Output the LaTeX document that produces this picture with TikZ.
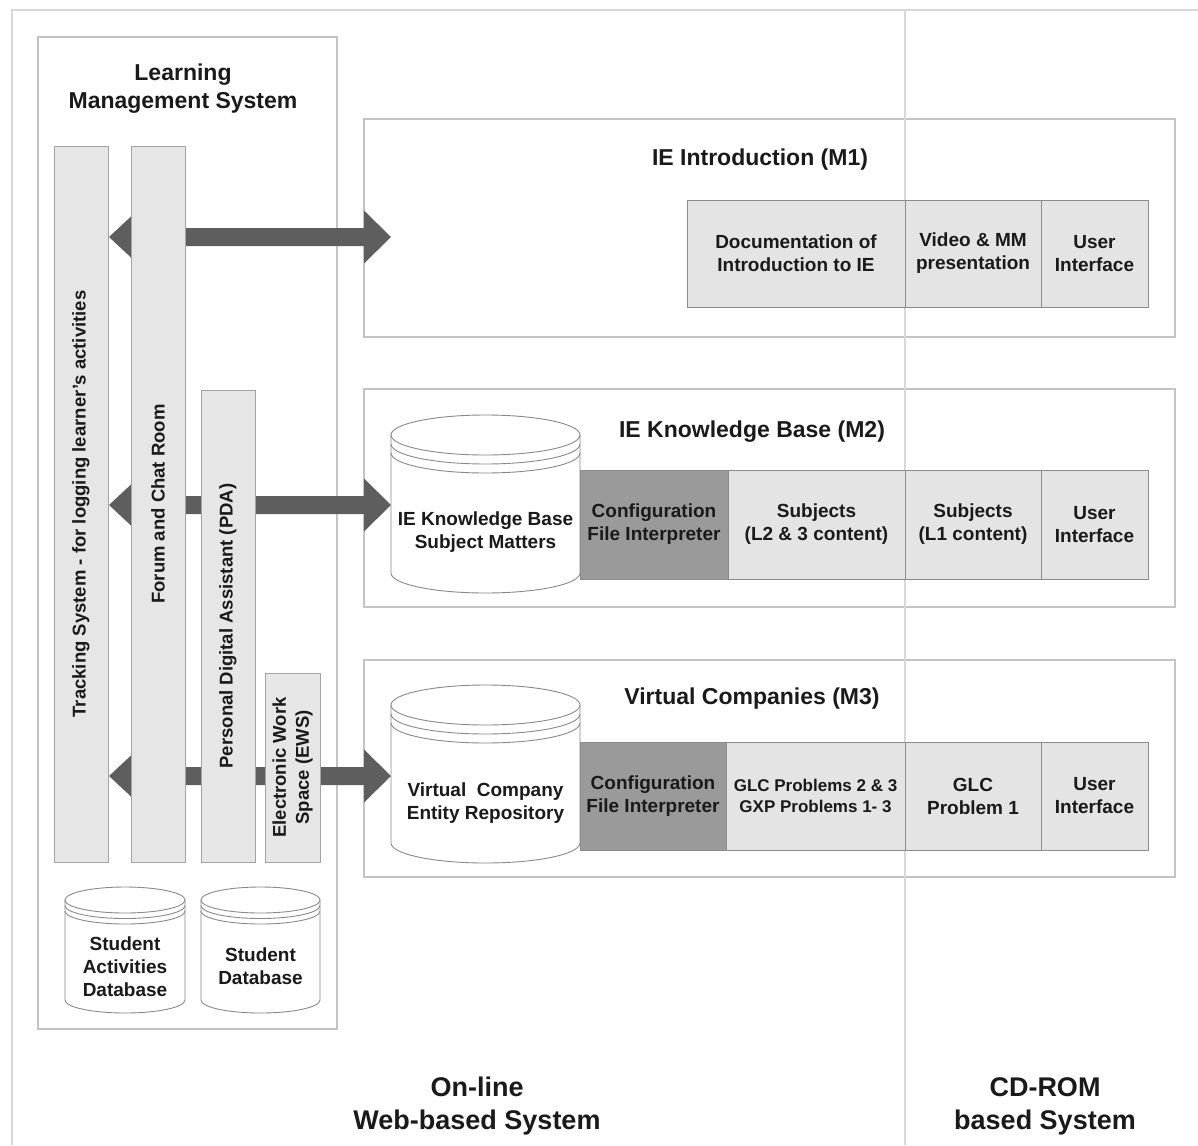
\documentclass[tikz,border=0pt]{standalone}
\usepackage{fontspec}
\setmainfont{Liberation Sans}
\usetikzlibrary{calc}
\definecolor{framecol}{HTML}{D8D8D8}
\definecolor{boxcol}{HTML}{C4C4C4}
\definecolor{barfill}{HTML}{E6E6E6}
\definecolor{barline}{HTML}{A4A4A4}
\definecolor{cellfill}{HTML}{E4E4E4}
\definecolor{cellline}{HTML}{8C8C8C}
\definecolor{cfgfill}{HTML}{9A9A9A}
\definecolor{arrowcol}{HTML}{5E5E5E}
\definecolor{txt}{HTML}{1A1A1A}
\definecolor{cylcol}{HTML}{8A8A8A}
\newcommand\ftitle{\fontsize{23}{28}\selectfont\bfseries}
\newcommand\fcell{\fontsize{19}{23}\selectfont\bfseries}
\newcommand\fsmall{\fontsize{17}{21}\selectfont\bfseries}
\newcommand\fbottom{\fontsize{27}{33}\selectfont\bfseries}
\newcommand\fvert{\fontsize{18.5}{23}\selectfont\bfseries}
% cylinder: x1, x2, yc(top ellipse centre), yb(bottom ellipse centre), rx, ry, gap
\newcommand\dbcyl[7]{%
  \fill[white] (#1,#3) -- (#1,#4) arc[start angle=180,end angle=360,x radius=#5pt,y radius=#6pt] -- (#2,#3) -- cycle;
  \draw[cylline] (#1,#3) -- (#1,#4) arc[start angle=180,end angle=360,x radius=#5pt,y radius=#6pt] -- (#2,#3);
  \draw[cylline] ($(#1,#3)!0.5!(#2,#3)$) ellipse[x radius=#5pt,y radius=#6pt];
  \draw[cylline] (#1,{#3+#7}) arc[start angle=180,end angle=360,x radius=#5pt,y radius=#6pt];
  \draw[cylline] (#1,{#3+2*#7}) arc[start angle=180,end angle=360,x radius=#5pt,y radius=#6pt];
}
% double block arrow between two named tip coordinates
\newcommand\bigarrow[2]{%
  \fill[arrowcol] (#1) -- ++(22,-20.5) -- ++(0,11.5) -- ($(#2)+(-27,-9)$) -- ++(0,-17.5) -- (#2)
    -- ++(-27,26.5) -- ++(0,-17.5) -- ($(#1)+(22,9)$) -- ++(0,11.5) -- cycle;
}
\begin{document}
\begin{tikzpicture}[x=1pt,y=-1pt,
  frameline/.style={draw=framecol,line width=1.2pt},
  outerbox/.style={draw=boxcol,line width=1.4pt,inner sep=0pt},
  bar/.style={draw=barline,fill=barfill,line width=1pt,inner sep=0pt,text=txt,font=\fvert,align=center},
  cell/.style={draw=cellline,fill=cellfill,line width=0.8pt,inner sep=0pt,text=txt,font=\fcell,align=center},
  cfg/.style={cell,fill=cfgfill},
  cylline/.style={draw=cylcol,line width=0.9pt},
  lbl/.style={text=txt,align=center,inner sep=0pt},
]
\useasboundingbox (0,0) rectangle (1198,1145);
\fill[white] (0,0) rectangle (1198,1145);

% outer frame and divider
\draw[frameline] (12,1145) -- (12,10) -- (1198,10);

% LMS box
\node[outerbox,minimum width=299,minimum height=992] (lms) at (187.5,533) {};
\node[lbl,font=\ftitle] (lmstitle) at (183,89) {Learning\\Management System};

% module boxes
\node[outerbox,minimum width=811,minimum height=218] (m1) at (769.5,228) {};
\node[outerbox,minimum width=811,minimum height=218] (m2) at (769.5,498) {};
\node[outerbox,minimum width=811,minimum height=217] (m3) at (769.5,768.5) {};

\draw[frameline] (905,10) -- (905,1145);

\node[lbl,font=\ftitle] (t1) at (760,160) {IE Introduction (M1)};
\node[lbl,font=\ftitle] (t2) at (752,432) {IE Knowledge Base (M2)};
\node[lbl,font=\ftitle] (t3) at (752,699) {Virtual Companies (M3)};

% arrows (behind the bars)
\coordinate (a1l) at (109,237); \coordinate (a1r) at (391,237);
\coordinate (a2l) at (109,505); \coordinate (a2r) at (391,505);
\coordinate (a3l) at (109,776); \coordinate (a3r) at (391,776);
\bigarrow{a1l}{a1r}
\bigarrow{a2l}{a2r}
\bigarrow{a3l}{a3r}

% vertical bars
\node[bar,rotate=90,minimum width=716,minimum height=54] (track) at (81,504) {Tracking System - for logging learner's activities};
\node[bar,rotate=90,minimum width=716,minimum height=54] (forum) at (158,504) {Forum and Chat Room};
\node[bar,rotate=90,minimum width=472,minimum height=54] (pda) at (228,626) {Personal Digital Assistant (PDA)};
\node[bar,rotate=90,minimum width=189,minimum height=55] (ews) at (292.5,767.5) {Electronic Work\\Space (EWS)};

% LMS databases
\dbcyl{65}{185}{900}{1000}{60}{13}{5.5}
\dbcyl{201}{320}{900}{1000}{59.5}{13}{5.5}
\node[lbl,font=\fcell] (sadb) at (125,967) {Student\\Activities\\Database};
\node[lbl,font=\fcell] (sdb) at (260.5,966.5) {Student\\Database};

% M1 cells
\node[cell,minimum width=218,minimum height=107] (doc) at (796,253.5) {Documentation of\\Introduction to IE};
\node[cell,minimum width=136,minimum height=107] (video) at (973,253.5) {Video \& MM\\presentation};
\node[cell,minimum width=107,minimum height=107] (ui1) at (1094.5,253.5) {User\\Interface};

% M2
\dbcyl{391}{580}{435}{573}{94.5}{20}{9}
\node[lbl,font=\fcell] (kb) at (485.5,532) {IE Knowledge Base\\Subject Matters};
\node[cfg,minimum width=148,minimum height=109] (cfg2) at (654,524.5) {Configuration\\File Interpreter};
\node[cell,minimum width=177,minimum height=109] (s23) at (816.5,524.5) {Subjects\\(L2 \& 3 content)};
\node[cell,minimum width=136,minimum height=109] (s1) at (973,524.5) {Subjects\\(L1 content)};
\node[cell,minimum width=107,minimum height=109] (ui2) at (1094.5,524.5) {User\\Interface};

% M3
\dbcyl{391}{580}{705}{843}{94.5}{20}{9}
\node[lbl,font=\fcell] (vc) at (485.5,803) {Virtual\ \ Company\\Entity Repository};
\node[cfg,minimum width=146,minimum height=108] (cfg3) at (653,796) {Configuration\\File Interpreter};
\node[cell,font=\fsmall,minimum width=179,minimum height=108] (glc23) at (815.5,796) {GLC Problems 2 \& 3\\GXP Problems 1- 3};
\node[cell,minimum width=136,minimum height=108] (glc1) at (973,796) {GLC\\Problem 1};
\node[cell,minimum width=107,minimum height=108] (ui3) at (1094.5,796) {User\\Interface};

% bottom labels
\node[lbl,font=\fbottom] (online) at (477,1106) {On-line\\Web-based System};
\node[lbl,font=\fbottom] (cdrom) at (1045,1106) {CD-ROM\\based System};
\end{tikzpicture}
\end{document}
